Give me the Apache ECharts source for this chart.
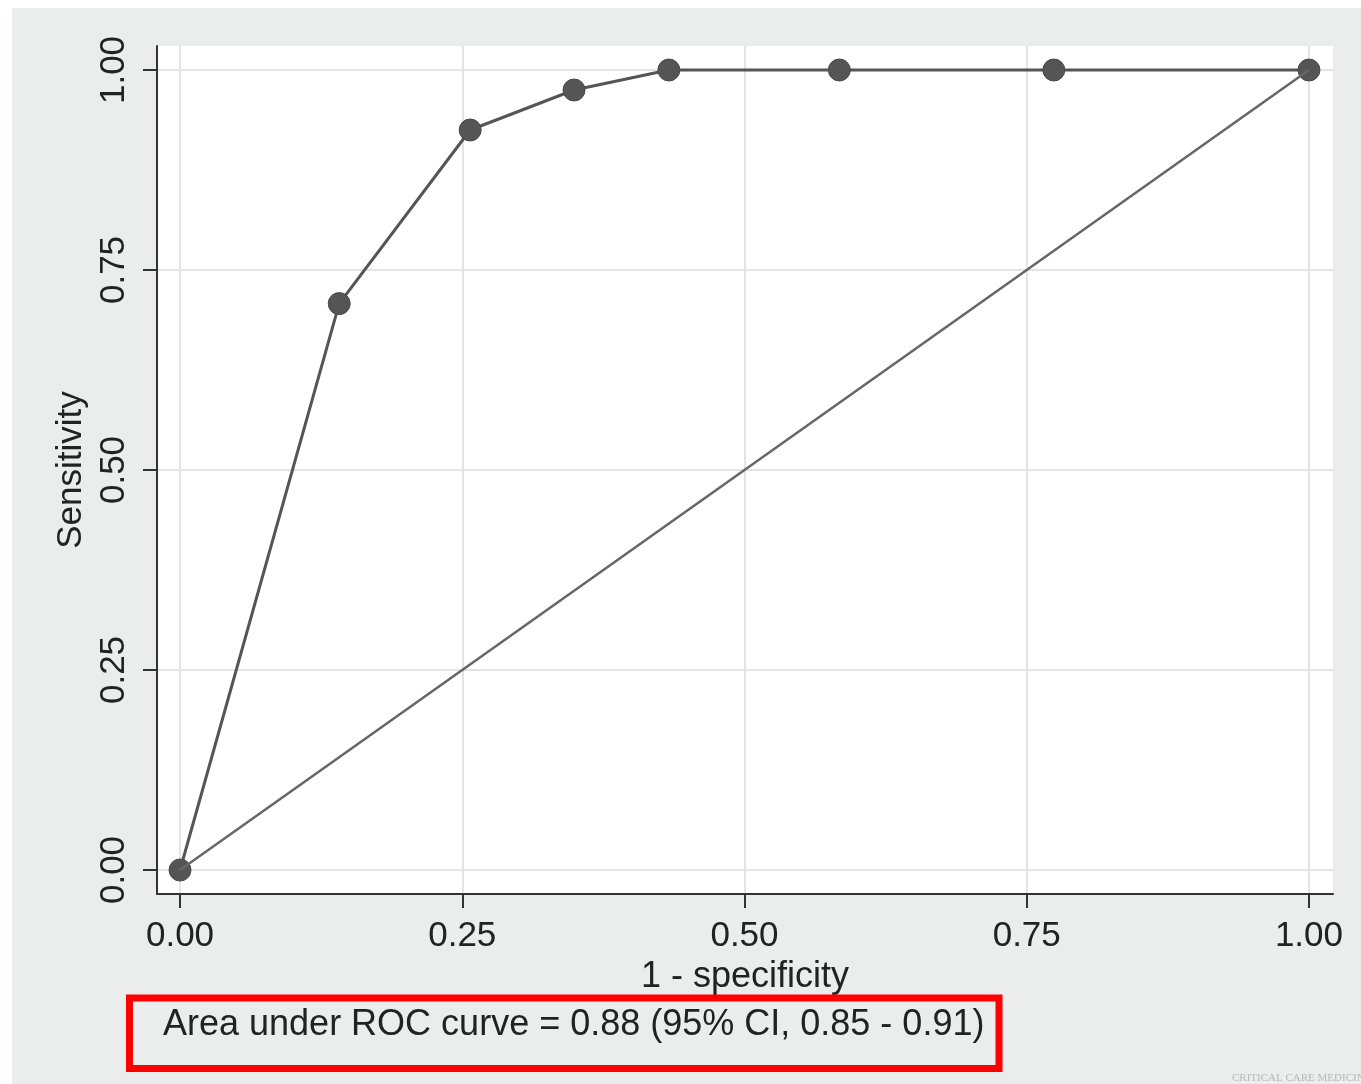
<!DOCTYPE html>
<html>
<head>
<meta charset="utf-8">
<style>
html,body{margin:0;padding:0;background:#fff;}
#chart{width:1361px;height:1084px;}
</style>
<script src="https://cdn.jsdelivr.net/npm/echarts@6/dist/echarts.min.js"></script>
</head>
<body>
<div id="chart"></div>
<script>
// ROC curve points (1 - specificity, sensitivity)
var rocX = [0, 0.141, 0.257, 0.349, 0.433, 0.584, 0.774, 1.0];
var rocY = [0, 0.708, 0.925, 0.975, 1.0, 1.0, 1.0, 1.0];
// reference (chance) line
var diagX = [0, 1];
var diagY = [0, 1];
// tick values and labels
var tickValues = [0, 0.25, 0.5, 0.75, 1];
var tickLabels = ['0.00', '0.25', '0.50', '0.75', '1.00'];
var xName = '1 - specificity';
var yName = 'Sensitivity';
var aucText = 'Area under ROC curve = 0.88 (95% CI, 0.85 - 0.91)';
var creditText = 'CRITICAL CARE MEDICINE';

function fmt(v) {
  for (var i = 0; i < tickValues.length; i++) {
    if (Math.abs(tickValues[i] - v) < 1e-9) return tickLabels[i];
  }
  return '';
}
function pairs(xs, ys) {
  return xs.map(function (x, i) { return [x, ys[i]]; });
}

var FONT = '"Liberation Sans", Arial, Helvetica, sans-serif';
var chart = echarts.init(document.getElementById('chart'), null, {renderer: 'canvas'});
chart.setOption({
  backgroundColor: '#ffffff',
  animation: false,
  graphic: [
    {type: 'rect', z: -100, silent: true,
     shape: {x: 12, y: 8, width: 1349, height: 1076},
     style: {fill: '#ebecec'}},
    {type: 'rect', z: 100, silent: true,
     shape: {x: 129.5, y: 998, width: 869.5, height: 70.5},
     style: {fill: 'none', stroke: '#ff0000', lineWidth: 7}},
    {type: 'text', z: 100, silent: true, x: 163, y: 1025,
     style: {text: aucText, font: '36px ' + FONT, fill: '#222', textAlign: 'left', textVerticalAlign: 'middle'}},
    {type: 'text', z: 100, silent: true, x: 1232, y: 1084,
     style: {text: creditText, font: '11px "Liberation Serif", serif', fill: '#b8b8b8', textAlign: 'left', textVerticalAlign: 'bottom'}}
  ],
  grid: {
    left: 157, right: 28, top: 46, bottom: 190,
    show: true, backgroundColor: '#ffffff', borderWidth: 0
  },
  xAxis: {
    type: 'value', min: -0.0204, max: 1.0213,
    name: xName, nameLocation: 'middle', nameGap: 62,
    nameTextStyle: {fontSize: 36, fontFamily: FONT, color: '#222'},
    axisLine: {show: true, onZero: false, lineStyle: {color: '#333', width: 2}},
    axisTick: {show: true, length: 14, customValues: tickValues, lineStyle: {color: '#333', width: 2}},
    axisLabel: {show: true, customValues: tickValues, formatter: fmt, margin: 25,
                fontSize: 35, fontFamily: FONT, color: '#222'},
    splitLine: {show: true, lineStyle: {color: '#e4e4e4', width: 2}}
  },
  yAxis: {
    type: 'value', min: -0.03, max: 1.03,
    name: yName, nameLocation: 'middle', nameGap: 62, nameRotate: 90,
    nameTextStyle: {fontSize: 35, fontFamily: FONT, color: '#222'},
    axisLine: {show: true, onZero: false, lineStyle: {color: '#333', width: 2}},
    axisTick: {show: true, length: 14, customValues: tickValues, lineStyle: {color: '#333', width: 2}},
    axisLabel: {show: true, customValues: tickValues, formatter: fmt, margin: 25, rotate: 90,
                fontSize: 35, fontFamily: FONT, color: '#222'},
    splitLine: {show: true, lineStyle: {color: '#e4e4e4', width: 2}}
  },
  series: [
    {
      type: 'line', name: 'ROC', z: 3,
      data: pairs(rocX, rocY),
      symbol: 'circle', symbolSize: 22,
      lineStyle: {color: '#555555', width: 3},
      itemStyle: {color: '#555555', borderColor: '#4a4a4a', borderWidth: 1},
      silent: true
    },
    {
      type: 'line', name: 'Reference', z: 4,
      data: pairs(diagX, diagY),
      symbol: 'none',
      lineStyle: {color: '#666666', width: 2.5},
      silent: true
    }
  ]
});
</script>
</body>
</html>
